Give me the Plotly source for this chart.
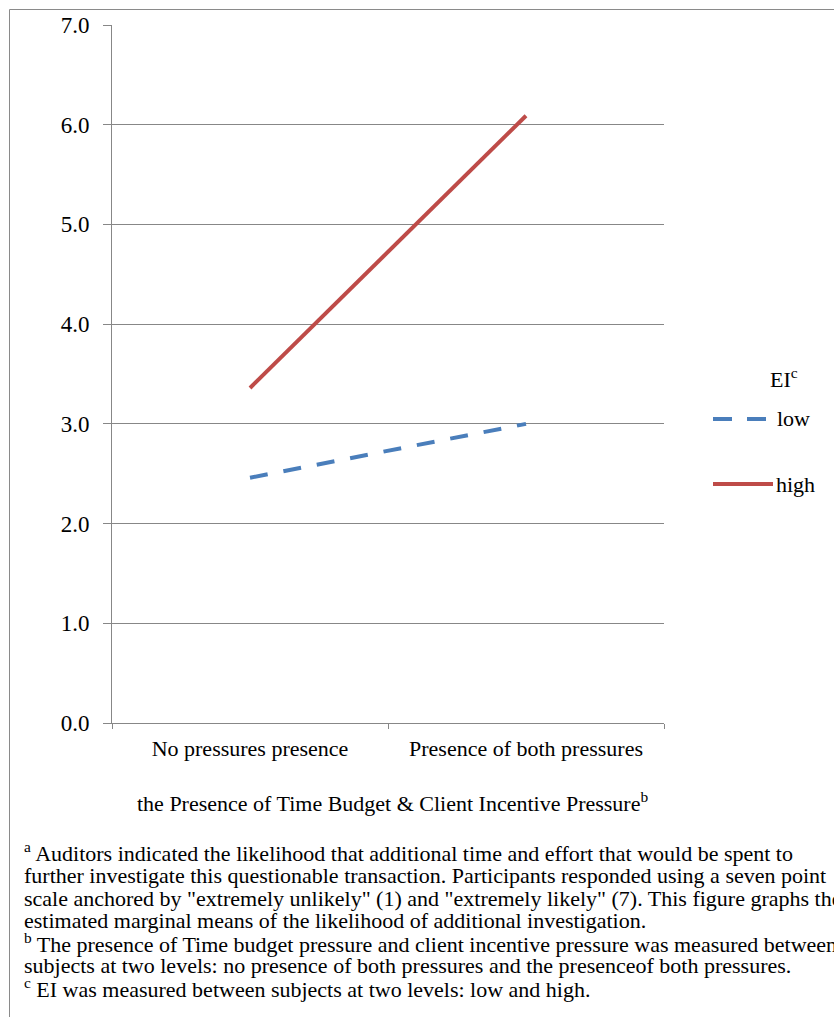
import plotly.graph_objects as go

# Estimated marginal means of the likelihood of additional investigation
conditions = ["No pressures presence", "Presence of both pressures"]
ei_low = [2.46, 3.00]
ei_high = [3.36, 6.09]
y_ticks = [0, 1, 2, 3, 4, 5, 6, 7]

W, H = 834, 1017
L, R, T, B = 112, 170, 25, 294
PW, PH = W - L - R, H - T - B

BLUE = "#4A7EBB"
RED = "#BE4B48"
GRID = "#878787"
FONT = "Liberation Serif, Times New Roman, serif"


def px_x(x):
    return (x - L) / PW


def px_y(y):
    return (H - B - y) / PH


fig = go.Figure()
fig.add_trace(go.Scatter(x=conditions, y=ei_low, mode="lines", name="low",
                         line=dict(color=BLUE, width=4, dash="18px,16px")))
fig.add_trace(go.Scatter(x=conditions, y=ei_high, mode="lines", name="high",
                         line=dict(color=RED, width=4)))

shapes = [
    # outer chart frame
    dict(type="rect", xref="paper", yref="paper",
         x0=px_x(9.5), x1=px_x(900), y0=px_y(1100), y1=px_y(9.5),
         line=dict(color="#8a8a8a", width=1), layer="below"),
    # legend samples
    dict(type="line", xref="paper", yref="paper",
         x0=px_x(713), x1=px_x(767), y0=px_y(419), y1=px_y(419),
         line=dict(color=BLUE, width=4, dash="19px,15px")),
    dict(type="line", xref="paper", yref="paper",
         x0=px_x(713), x1=px_x(773), y0=px_y(484), y1=px_y(484),
         line=dict(color=RED, width=4)),
]

annotations = [
    dict(text="EI<sup>c</sup>", x=px_x(768), y=px_y(378), xanchor="left", yanchor="middle"),
    dict(text="low", x=px_x(775), y=px_y(418), xanchor="left", yanchor="middle"),
    dict(text="high", x=px_x(774), y=px_y(484), xanchor="left", yanchor="middle"),
    dict(text="the Presence of Time Budget &amp; Client Incentive Pressure<sup>b</sup>",
         x=px_x(392), y=px_y(802), xanchor="center", yanchor="middle"),
]

notes = [
    "<sup>a</sup> Auditors indicated the likelihood that additional time and effort that would be spent to",
    "further investigate this questionable transaction. Participants responded using a seven point",
    "scale anchored by \"extremely unlikely\" (1) and \"extremely likely\" (7). This figure graphs the",
    "estimated marginal means of the likelihood of additional investigation.",
    "<sup>b</sup> The presence of Time budget pressure and client incentive pressure was measured between",
    "subjects at two levels: no presence of both pressures and the presenceof both pressures.",
    "<sup>c</sup> EI was measured between subjects at two levels: low and high.",
]
note_y = [852, 875, 898, 920, 943, 965, 988]
for txt, yy in zip(notes, note_y):
    annotations.append(dict(text=txt, x=px_x(22), y=px_y(yy), xanchor="left",
                            yanchor="middle", font=dict(family=FONT, size=22)))

for a in annotations:
    a.setdefault("xref", "paper")
    a.setdefault("yref", "paper")
    a.setdefault("showarrow", False)
    a.setdefault("font", dict(family=FONT, size=22))

fig.update_layout(
    width=W, height=H,
    margin=dict(l=L, r=R, t=T, b=B, autoexpand=False),
    paper_bgcolor="white", plot_bgcolor="white",
    font=dict(family=FONT, size=22, color="black"),
    showlegend=False,
    shapes=shapes,
    annotations=annotations,
    xaxis=dict(type="category", range=[-0.5, 1.5], showline=True, linecolor=GRID,
               linewidth=1, ticks="outside", tickson="boundaries", ticklen=5,
               tickcolor=GRID, showgrid=False, zeroline=False,
               tickfont=dict(family=FONT, size=22), ticklabelstandoff=6),
    yaxis=dict(range=[0, 7], tickvals=y_ticks, tickformat=".1f", showline=True,
               linecolor=GRID, linewidth=1, ticks="outside", ticklen=8,
               tickcolor=GRID, showgrid=True, gridcolor=GRID, gridwidth=1,
               zeroline=False, tickfont=dict(family=FONT, size=23),
               ticklabelstandoff=9),
)

fig.write_html("out.html")
